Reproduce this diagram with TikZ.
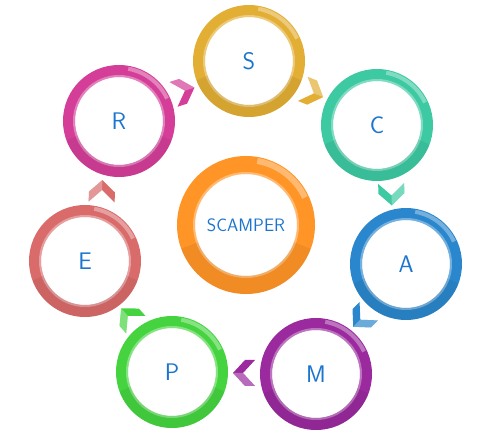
\documentclass[tikz,border=0pt]{standalone}
\usetikzlibrary{calc}
\definecolor{ringS}{HTML}{E2AE34}
\definecolor{ringC}{HTML}{3DC9A2}
\definecolor{ringA}{HTML}{2A87CD}
\definecolor{ringM}{HTML}{9A2A9E}
\definecolor{ringP}{HTML}{45D43F}
\definecolor{ringE}{HTML}{D96B6B}
\definecolor{ringR}{HTML}{D43E98}
\definecolor{ringX}{HTML}{FF9526}
\definecolor{lettercol}{HTML}{1B75CF}
\tikzset{
	ring/.style={circle, draw=#1, line width=12pt, minimum size=100pt, inner sep=0pt,
		text=lettercol, font=\sffamily\fontsize{24}{26}\selectfont},
	bigring/.style={ring=#1, line width=18pt, minimum size=120pt,
		font=\sffamily\fontsize{18}{20}\selectfont},
	rimline/.style={white, opacity=.35, line width=2pt},
	glossline/.style={white, opacity=.35, line width=4pt},
	shadeline/.style={black, opacity=.06, line width=#1},
}
\begin{document}
\begin{tikzpicture}[x=1pt,y=1pt]
	\useasboundingbox (0,0) rectangle (480,442);
	%Centre ring
	\node[bigring=ringX] (scamper) at (246,217) {SCAMPER};
	\draw[rimline] (scamper.center) circle (52pt);
	\draw[shadeline=18pt] (scamper.center) ++(200:60pt) arc[start angle=200, end angle=340, radius=60pt];
	\draw[glossline, line width=6pt] (scamper.center) ++(25:65pt) arc[start angle=25, end angle=80, radius=65pt];
	%The seven letter rings
	\foreach \name/\pos/\col in {S/{249,381}/ringS, C/{377,317}/ringC, A/{406,178}/ringA,
		M/{316,68}/ringM, P/{172,70}/ringP, E/{85,181}/ringE, R/{119,321}/ringR} {
		\node[ring=\col] (\name) at (\pos) {\name};
		\draw[rimline] (\name.center) circle (45pt);
		\draw[shadeline=12pt] (\name.center) ++(200:50pt) arc[start angle=200, end angle=340, radius=50pt];
		\draw[glossline] (\name.center) ++(25:53pt) arc[start angle=25, end angle=80, radius=53pt];
	}
	%Chevrons between the rings
	\foreach \from/\to/\col/\ang in {R/S/ringR/18, S/C/ringS/-22, C/A/ringC/-88, A/M/ringA/-135,
		M/P/ringM/180, P/E/ringP/132, E/R/ringE/88} {
		\begin{scope}[shift={($(\from)!.5!(\to)$)}, rotate=\ang]
			\fill[\col] (-11,13) -- (-1,13) -- (11,0) -- (-1,-13) -- (-11,-13) -- (1,0) -- cycle;
			\fill[white, opacity=.3] (-11,13) -- (-1,13) -- (11,0) -- (1,0) -- cycle;
		\end{scope}
	}
\end{tikzpicture}
\end{document}
